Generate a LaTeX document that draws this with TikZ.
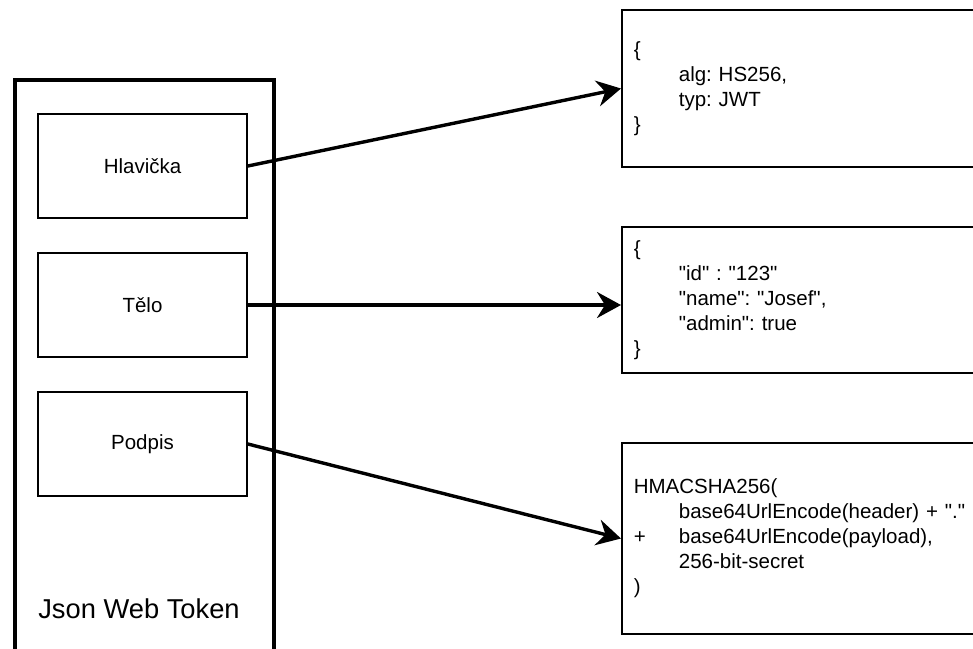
\documentclass[tikz,border=0pt]{standalone}
\usepackage{fontspec}
\setmainfont{Liberation Sans}
\usetikzlibrary{arrows.meta}
\frenchspacing

\newcommand{\codeind}{\hspace*{45pt}}
\newcommand{\dq}{\textquotedbl}

\begin{document}
\begin{tikzpicture}[x=1pt,y=-1pt,
  part/.style={draw,line width=1.7pt,minimum width=209pt,minimum height=104pt,font=\fontsize{20.5}{24.6}\selectfont},
  code/.style={draw,line width=1.7pt,anchor=west,minimum width=360pt,text width=336pt,inner xsep=12pt,align=left,font=\fontsize{20.5}{25}\selectfont},
  link/.style={-{Stealth[length=24pt,width=26pt,inset=8pt]},line width=3.4pt}]
  \useasboundingbox (0,0) rectangle (973,648);

  \node[draw,line width=4.2pt,anchor=north west,minimum width=259pt,minimum height=620pt] (jwt) at (13,78) {};
  \node[font=\fontsize{27.3}{32}\selectfont] (jwtname) at (139,609) {Json Web Token};

  \node[part] (header) at (142.5,166) {Hlavička};
  \node[part] (body) at (142.5,305) {Tělo};
  \node[part] (signature) at (142.5,444) {Podpis};

  \node[code,minimum height=157pt] (headjson) at (621,88.5)
    {\{\\ \codeind alg: HS256,\\ \codeind typ: JWT\\ \}};
  \node[code,minimum height=146pt] (bodyjson) at (621,300)
    {\{\\ \codeind \dq id\dq{} : \dq 123\dq\\ \codeind \dq name\dq: \dq Josef\dq,\\ \codeind \dq admin\dq: true\\ \}};
  \node[code,minimum height=191pt] (sigcode) at (621,538.5)
    {HMACSHA256(\\ \codeind base64UrlEncode(header) + \dq.\dq\\ \makebox[45pt][l]{+}base64UrlEncode(payload),\\ \codeind 256-bit-secret\\ )};

  \draw[link] (header.east) -- (headjson.west);
  \draw[link] (body.east) -- (body.east -| bodyjson.west);
  \draw[link] (signature.east) -- (sigcode.west);
\end{tikzpicture}
\end{document}
